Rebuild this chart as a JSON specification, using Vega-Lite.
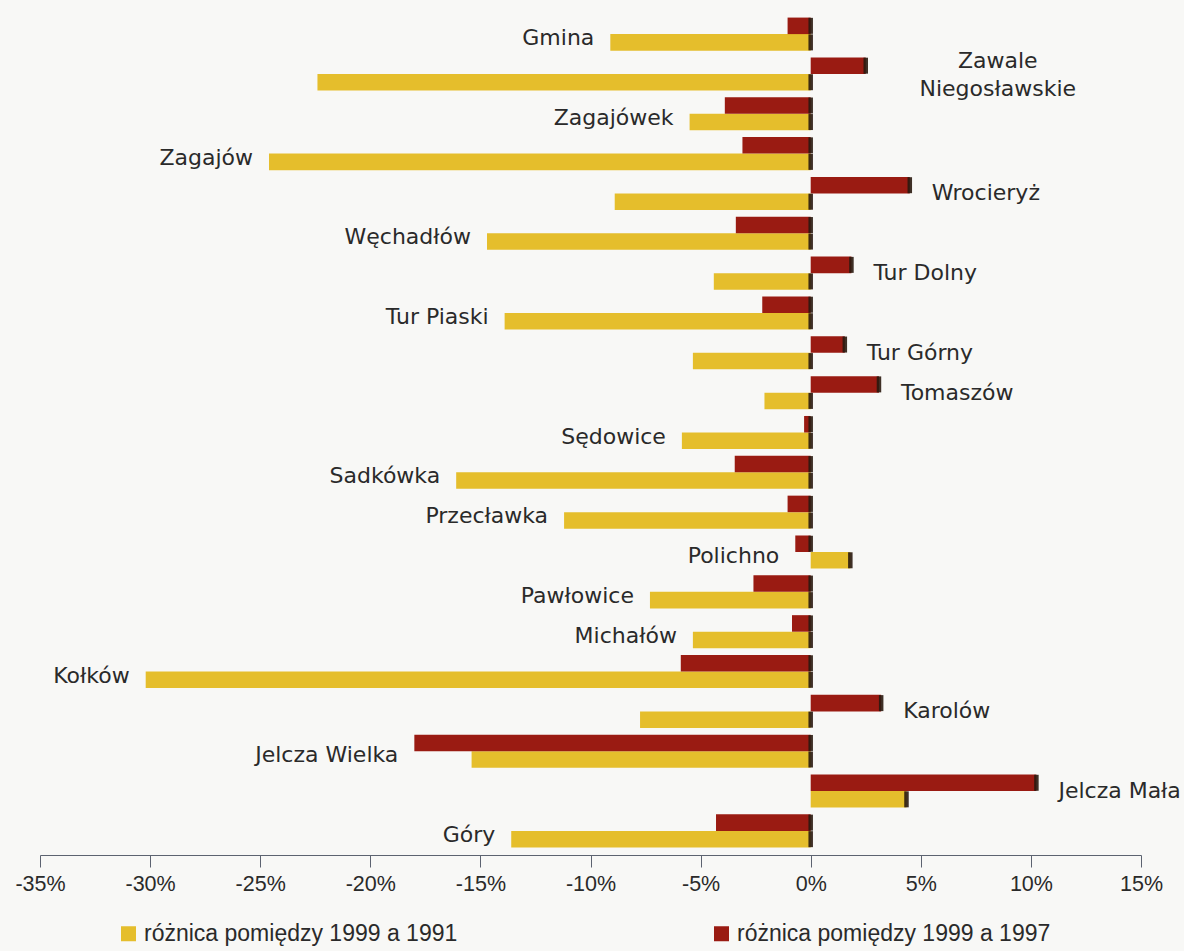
{
  "$schema": "https://vega.github.io/schema/vega-lite/v6.json",
  "autosize": "none",
  "width": 1101,
  "height": 845,
  "padding": {"left": 40, "top": 10, "right": 43, "bottom": 96},
  "background": "#f8f8f6",
  "config": {"view": {"stroke": null}, "font": "DejaVu Sans"},
  "data": {"values": [
    {"name": "Gmina", "series": "różnica pomiędzy 1999 a 1991", "value": -9.1},
    {"name": "Gmina", "series": "różnica pomiędzy 1999 a 1997", "value": -1.05},
    {"name": "Zawale Niegosławskie", "series": "różnica pomiędzy 1999 a 1991", "value": -22.4},
    {"name": "Zawale Niegosławskie", "series": "różnica pomiędzy 1999 a 1997", "value": 2.5},
    {"name": "Zagajówek", "series": "różnica pomiędzy 1999 a 1991", "value": -5.5},
    {"name": "Zagajówek", "series": "różnica pomiędzy 1999 a 1997", "value": -3.9},
    {"name": "Zagajów", "series": "różnica pomiędzy 1999 a 1991", "value": -24.6},
    {"name": "Zagajów", "series": "różnica pomiędzy 1999 a 1997", "value": -3.1},
    {"name": "Wrocieryż", "series": "różnica pomiędzy 1999 a 1991", "value": -8.9},
    {"name": "Wrocieryż", "series": "różnica pomiędzy 1999 a 1997", "value": 4.5},
    {"name": "Węchadłów", "series": "różnica pomiędzy 1999 a 1991", "value": -14.7},
    {"name": "Węchadłów", "series": "różnica pomiędzy 1999 a 1997", "value": -3.4},
    {"name": "Tur Dolny", "series": "różnica pomiędzy 1999 a 1991", "value": -4.4},
    {"name": "Tur Dolny", "series": "różnica pomiędzy 1999 a 1997", "value": 1.85},
    {"name": "Tur Piaski", "series": "różnica pomiędzy 1999 a 1991", "value": -13.9},
    {"name": "Tur Piaski", "series": "różnica pomiędzy 1999 a 1997", "value": -2.2},
    {"name": "Tur Górny", "series": "różnica pomiędzy 1999 a 1991", "value": -5.35},
    {"name": "Tur Górny", "series": "różnica pomiędzy 1999 a 1997", "value": 1.55},
    {"name": "Tomaszów", "series": "różnica pomiędzy 1999 a 1991", "value": -2.1},
    {"name": "Tomaszów", "series": "różnica pomiędzy 1999 a 1997", "value": 3.1},
    {"name": "Sędowice", "series": "różnica pomiędzy 1999 a 1991", "value": -5.85},
    {"name": "Sędowice", "series": "różnica pomiędzy 1999 a 1997", "value": -0.3},
    {"name": "Sadkówka", "series": "różnica pomiędzy 1999 a 1991", "value": -16.1},
    {"name": "Sadkówka", "series": "różnica pomiędzy 1999 a 1997", "value": -3.45},
    {"name": "Przecławka", "series": "różnica pomiędzy 1999 a 1991", "value": -11.2},
    {"name": "Przecławka", "series": "różnica pomiędzy 1999 a 1997", "value": -1.05},
    {"name": "Polichno", "series": "różnica pomiędzy 1999 a 1991", "value": 1.8},
    {"name": "Polichno", "series": "różnica pomiędzy 1999 a 1997", "value": -0.7},
    {"name": "Pawłowice", "series": "różnica pomiędzy 1999 a 1991", "value": -7.3},
    {"name": "Pawłowice", "series": "różnica pomiędzy 1999 a 1997", "value": -2.6},
    {"name": "Michałów", "series": "różnica pomiędzy 1999 a 1991", "value": -5.35},
    {"name": "Michałów", "series": "różnica pomiędzy 1999 a 1997", "value": -0.85},
    {"name": "Kołków", "series": "różnica pomiędzy 1999 a 1991", "value": -30.2},
    {"name": "Kołków", "series": "różnica pomiędzy 1999 a 1997", "value": -5.9},
    {"name": "Karolów", "series": "różnica pomiędzy 1999 a 1991", "value": -7.75},
    {"name": "Karolów", "series": "różnica pomiędzy 1999 a 1997", "value": 3.2},
    {"name": "Jelcza Wielka", "series": "różnica pomiędzy 1999 a 1991", "value": -15.4},
    {"name": "Jelcza Wielka", "series": "różnica pomiędzy 1999 a 1997", "value": -18.0},
    {"name": "Jelcza Mała", "series": "różnica pomiędzy 1999 a 1991", "value": 4.35},
    {"name": "Jelcza Mała", "series": "różnica pomiędzy 1999 a 1997", "value": 10.25},
    {"name": "Góry", "series": "różnica pomiędzy 1999 a 1991", "value": -13.6},
    {"name": "Góry", "series": "różnica pomiędzy 1999 a 1997", "value": -4.3}
  ]},
  "encoding": {
    "y": {
      "field": "name", "type": "nominal", "axis": null,
      "sort": ["Gmina", "Zawale Niegosławskie", "Zagajówek", "Zagajów", "Wrocieryż", "Węchadłów", "Tur Dolny", "Tur Piaski", "Tur Górny", "Tomaszów", "Sędowice", "Sadkówka", "Przecławka", "Polichno", "Pawłowice", "Michałów", "Kołków", "Karolów", "Jelcza Wielka", "Jelcza Mała", "Góry"],
      "scale": {"paddingInner": 0.17, "paddingOuter": 0.19}
    }
  },
  "layer": [
    {
      "mark": {"type": "bar"},
      "encoding": {
        "x": {
          "field": "value", "type": "quantitative",
          "scale": {"domain": [-35, 15], "nice": false, "zero": false},
          "axis": {
            "title": null, "grid": false, "values": [-35, -30, -25, -20, -15, -10, -5, 0, 5, 10, 15],
            "labelExpr": "datum.value + '%'", "labelFont": "Liberation Sans", "labelFontSize": 21.5, "labelColor": "#2a2a2a",
            "labelPadding": 6, "tickSize": 12, "tickColor": "#5c6370", "domainColor": "#5c6370",
            "labelFlush": false, "orient": "bottom"
          }
        },
        "yOffset": {"field": "series", "sort": ["różnica pomiędzy 1999 a 1997", "różnica pomiędzy 1999 a 1991"]},
        "color": {
          "field": "series", "type": "nominal",
          "scale": {"domain": ["różnica pomiędzy 1999 a 1991", "różnica pomiędzy 1999 a 1997"], "range": ["#E5BE2C", "#9A1B12"]},
          "legend": {
            "title": null, "orient": "none", "direction": "horizontal", "legendX": 77, "legendY": 912,
            "symbolType": "square", "symbolSize": 225, "symbolStrokeWidth": 0, "labelFont": "Liberation Sans", "labelFontSize": 23,
            "labelColor": "#2a2a2a", "labelLimit": 500, "labelOffset": 4, "columnPadding": 252
          }
        }
      }
    },
    {
      "transform": [{"calculate": "max(datum.value, 0)", "as": "edge"}],
      "mark": {"type": "tick", "thickness": 4.5, "size": 16, "color": "#2a1a10", "opacity": 0.9},
      "encoding": {
        "x": {"field": "edge", "type": "quantitative"},
        "yOffset": {"field": "series", "sort": ["różnica pomiędzy 1999 a 1997", "różnica pomiędzy 1999 a 1991"]}
      }
    },
    {
      "transform": [
        {"pivot": "series", "value": "value", "groupby": ["name"]},
        {"filter": "datum.name != 'Zawale Niegosławskie'"},
        {"calculate": "datum['różnica pomiędzy 1999 a 1997'] > 0 ? datum['różnica pomiędzy 1999 a 1997'] : min(datum['różnica pomiędzy 1999 a 1997'], datum['różnica pomiędzy 1999 a 1991'])", "as": "pos"},
        {"calculate": "datum['różnica pomiędzy 1999 a 1997'] > 0 ? 'right' : 'left'", "as": "side"}
      ],
      "layer": [
        {
          "transform": [{"filter": "datum.side == 'left'"}],
          "mark": {"type": "text", "align": "right", "baseline": "middle", "dx": -16, "dy": 4, "fontSize": 22, "color": "#2a2a2a"},
          "encoding": {"x": {"field": "pos", "type": "quantitative"}, "text": {"field": "name"}}
        },
        {
          "transform": [{"filter": "datum.side == 'right'"}],
          "mark": {"type": "text", "align": "left", "baseline": "middle", "dx": 22, "dy": 0, "fontSize": 22, "color": "#2a2a2a"},
          "encoding": {"x": {"field": "pos", "type": "quantitative"}, "text": {"field": "name"}}
        }
      ]
    },
    {
      "transform": [
        {"filter": "datum.name == 'Zawale Niegosławskie' && datum.series == 'różnica pomiędzy 1999 a 1997'"},
        {"calculate": "'Zawale\\nNiegosławskie'", "as": "lbl"}
      ],
      "mark": {"type": "text", "align": "center", "baseline": "middle", "dx": 132, "dy": -13, "fontSize": 22, "color": "#2a2a2a", "lineBreak": "\n", "lineHeight": 28},
      "encoding": {"x": {"field": "value", "type": "quantitative"}, "text": {"field": "lbl"}}
    }
  ]
}
